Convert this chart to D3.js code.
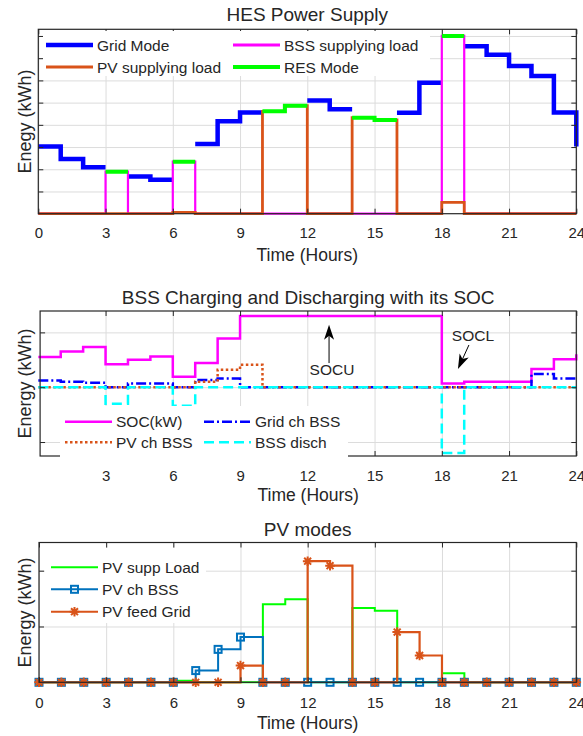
<!DOCTYPE html>
<html><head><meta charset="utf-8">
<script src="https://cdn.jsdelivr.net/npm/d3@7"></script>
<style>
body{margin:0;background:#fff}
svg{display:block}
text{font-family:"Liberation Sans",Arial,Helvetica,sans-serif;fill:#262626}
</style>
</head><body>
<script>
// ---------- DATA ----------
const hours = d3.range(0, 25);            // 0..24 h (stairs points)
const xTickVals = [0, 3, 6, 9, 12, 15, 18, 21, 24];
const xTickValsMid = [3, 6, 9, 12, 15, 18, 21, 24];

// Panel 1: HES Power Supply
const gridMode   = [3.03,2.46,2.09,null,1.68,1.53,null,3.14,4.16,4.56,null,null,5.09,4.70,null,null,4.54,5.89,null,7.54,7.15,6.65,6.20,4.56,3.03];
const bssSupply  = [0,0,0,1.89,0,0,2.34,0,0,0,0,0,0,0,0,0,0,0,8.0,0,0,0,0,0,0];
const pvSupply   = [0,0,0,0,0,0,0.06,0,0,0,4.61,4.86,0,0,4.32,4.22,0,0,0.51,0,0,0,0,0,0];
const resMode    = [null,null,null,1.89,null,null,2.34,null,null,null,4.61,4.86,null,null,4.32,4.22,null,null,8.0,null,null,null,null,null,null];
const yTicks1 = [1,2,3,4,5,6,7,8];

// Panel 2: BSS Charging and Discharging with its SOC
const soc      = [0.55,0.65,0.735,0.42,0.50,0.56,0.19,0.44,0.89,1.30,1.30,1.30,1.30,1.30,1.30,1.30,1.30,1.30,0.066,0.10,0.10,0.10,0.33,0.51,0.60];
const gridChBss= [0.12,0.10,0.08,0,0.066,0.066,0,0.13,0.16,0,0,0,0,0,0,0,0,0,0,0,0,0,0.24,0.16,0.15];
const pvChBss  = [0,0,0,0,0,0,0,0.10,0.32,0.41,0,0,0,0,0,0,0,0,0,0,0,0,0,0,0];
const bssDisch = [0,0,0,-0.30,0,0,-0.34,0,0,0,0,0,0,0,0,0,0,0,-1.20,0,0,0,0,0,0];
const yTicks2 = [-1,0,1];

// Panel 3: PV modes
const pvSuppLoad = [0,0,0,0,0,0,0.03,0,0,0,1.40,1.49,0,0,1.33,1.28,0,0,0.16,0,0,0,0,0,0];
const pvChBss3   = [0,0,0,0,0,0,0,0.21,0.59,0.81,0,0,0,0,0,0,0,0,0,0,0,0,0,0,0];
const pvFeedGrid = [0,0,0,0,0,0,0,0,0,0.30,0,0,2.17,2.09,0,0,0.90,0.48,0,0,0,0,0,0,0];
const yTicks3 = [1,2];

// ---------- DRAW ----------
const W = 583, H = 736;
const svg = d3.select("body").append("svg").attr("width", W).attr("height", H);
const AX = "#262626", GRID = "#dcdcdc";

function stairsPts(vals){
  const pts = [];
  for (let i = 0; i < vals.length - 1; i++){
    const v = vals[i];
    if (v == null){ pts.push(null); continue; }
    pts.push([hours[i], v], [hours[i+1], v]);
    if (vals[i+1] == null) pts.push(null);
  }
  const n = vals.length;
  if (vals[n-1] != null && vals[n-2] != null) pts.push([hours[n-1], vals[n-1]]);
  return pts;
}

function panel(o){
  const x = d3.scaleLinear().domain(o.xd).range([o.l, o.r]);
  const y = d3.scaleLinear().domain(o.yd).range([o.b, o.t]);
  const g = svg.append("g");
  g.append("g").attr("transform",`translate(0,${o.b})`)
    .call(d3.axisBottom(x).tickValues(o.xt).tickSize(-(o.b-o.t)).tickFormat(""))
    .call(s=>{s.select(".domain").remove(); s.selectAll("line").attr("stroke",GRID).attr("stroke-width",1);});
  g.append("g").attr("transform",`translate(${o.l},0)`)
    .call(d3.axisLeft(y).tickValues(o.yt).tickSize(-(o.r-o.l)).tickFormat(""))
    .call(s=>{s.select(".domain").remove(); s.selectAll("line").attr("stroke",GRID).attr("stroke-width",1);});
  const lineG = g.append("g");
  const line = d3.line().defined(d=>d!=null).x(d=>x(d[0])).y(d=>y(d[1]));
  const axG = g.append("g");
  axG.append("g").attr("transform",`translate(0,${o.b})`)
    .call(d3.axisBottom(x).tickValues(o.xt).tickSizeInner(-5).tickSizeOuter(0).tickPadding(o.pad).tickFormat(d3.format("d")))
    .call(s=>{s.select(".domain").remove(); s.selectAll("line").attr("stroke",AX);
      s.selectAll("text").attr("font-size",15).style("font-family",'"Liberation Sans",Arial,sans-serif').attr("fill",AX);});
  axG.append("g").attr("transform",`translate(0,${o.t})`)
    .call(d3.axisTop(x).tickValues(o.xt).tickSizeInner(-5).tickSizeOuter(0).tickFormat(""))
    .call(s=>{s.select(".domain").remove(); s.selectAll("line").attr("stroke",AX);});
  axG.append("g").attr("transform",`translate(${o.l},0)`)
    .call(d3.axisLeft(y).tickValues(o.yt).tickSizeInner(-5).tickSizeOuter(0).tickFormat(""))
    .call(s=>{s.select(".domain").remove(); s.selectAll("line").attr("stroke",AX);});
  axG.append("g").attr("transform",`translate(${o.r},0)`)
    .call(d3.axisRight(y).tickValues(o.yt).tickSizeInner(-5).tickSizeOuter(0).tickFormat(""))
    .call(s=>{s.select(".domain").remove(); s.selectAll("line").attr("stroke",AX);});
  axG.append("rect").attr("x",o.l).attr("y",o.t).attr("width",o.r-o.l).attr("height",o.b-o.t)
    .attr("fill","none").attr("stroke",AX).attr("stroke-width",1.2);
  g.append("text").attr("x",(o.l+o.r)/2).attr("y",o.titleY).attr("text-anchor","middle")
    .attr("dominant-baseline","central").attr("font-size",19).attr("fill","#000").text(o.title);
  g.append("text").attr("x",(o.l+o.r)/2).attr("y",o.xlabY).attr("text-anchor","middle")
    .attr("dominant-baseline","central").attr("font-size",17.5).text("Time (Hours)");
  g.append("text").attr("transform",`translate(25,${(o.t+o.b)/2}) rotate(-90)`).attr("text-anchor","middle")
    .attr("dominant-baseline","central").attr("font-size",18).text(o.ylab);
  return {x, y, lineG, line, g};
}

function drawStairs(p, vals, color, width, dash){
  p.lineG.append("path").datum(stairsPts(vals)).attr("d", p.line)
    .attr("fill","none").attr("stroke",color).attr("stroke-width",width)
    .attr("stroke-dasharray",dash||null).attr("stroke-linejoin","miter").attr("stroke-linecap","butt");
}
function squareMarker(sel, cx, cy, color){
  sel.append("rect").attr("x",cx-3.5).attr("y",cy-3.5).attr("width",7).attr("height",7)
    .attr("fill","none").attr("stroke",color).attr("stroke-width",2);
}
function starMarker(sel, cx, cy, color){
  const r = 4.8, d = r*0.72;
  sel.append("path").attr("d",`M${cx-r},${cy}L${cx+r},${cy}M${cx},${cy-r}L${cx},${cy+r}M${cx-d},${cy-d}L${cx+d},${cy+d}M${cx-d},${cy+d}L${cx+d},${cy-d}`)
    .attr("stroke",color).attr("stroke-width",2).attr("fill","none");
}
function legend(items, box){
  const lg = svg.append("g");
  lg.append("rect").attr("x",box[0]).attr("y",box[1]).attr("width",box[2]-box[0]).attr("height",box[3]-box[1]).attr("fill","#fff");
  items.forEach(it=>{
    lg.append("line").attr("x1",it.x).attr("x2",it.x+47).attr("y1",it.y).attr("y2",it.y)
      .attr("stroke",it.color).attr("stroke-width",it.w).attr("stroke-dasharray",it.dash||null);
    if (it.marker==="s") squareMarker(lg, it.x+23.5, it.y, it.color);
    if (it.marker==="*") starMarker(lg, it.x+23.5, it.y, it.color);
    lg.append("text").attr("x",it.x+51).attr("y",it.y).attr("dominant-baseline","central")
      .attr("font-size",15.5).attr("fill","#000").text(it.label);
  });
}

// ---- Panel 1
const p1 = panel({l:38.3,r:576.3,t:29.3,b:213.7,xd:[0,24],yd:[0,8.3],xt:xTickVals,yt:yTicks1,pad:14,
  title:"HES Power Supply",titleY:14,xlabY:255,ylab:"Enegy (kWh)"});
drawStairs(p1, gridMode, "#0000ff", 4.5);
drawStairs(p1, bssSupply, "#ff00ff", 2.2);
drawStairs(p1, pvSupply, "#d95319", 2.8);
drawStairs(p1, resMode, "#00ff00", 4);
legend([
  {x:46,y:45,color:"#0000ff",w:4.5,label:"Grid Mode"},
  {x:46,y:67,color:"#d95319",w:2.8,label:"PV supplying load"},
  {x:233,y:45,color:"#ff00ff",w:2.8,label:"BSS supplying load"},
  {x:233,y:67,color:"#00ff00",w:4,label:"RES Mode"}
],[43,31,430,76]);

// ---- Panel 2
const p2 = panel({l:40.1,r:576.3,t:311,b:456,xd:[0.08,24],yd:[-1.255,1.39],xt:xTickValsMid,yt:yTicks2,pad:14,
  title:"BSS Charging and Discharging with its SOC",titleY:297,xlabY:495,ylab:"Energy (kWh)"});
drawStairs(p2, soc, "#ff00ff", 2.5);
drawStairs(p2, gridChBss, "#0000ff", 2.5, "10,3,2,3");
drawStairs(p2, pvChBss, "#d95319", 2.5, "2.5,2.5");
drawStairs(p2, bssDisch, "#00ffff", 2.5, "10,5");
legend([
  {x:65,y:421.7,color:"#ff00ff",w:2.5,label:"SOC(kW)"},
  {x:65,y:442.3,color:"#d95319",w:2.5,label:"PV ch BSS",dash:"2.5,2.5"},
  {x:204,y:421.7,color:"#0000ff",w:2.5,label:"Grid ch BSS",dash:"10,3,2,3"},
  {x:204,y:442.3,color:"#00ffff",w:2.5,label:"BSS disch",dash:"10,5"}
],[60,406,348,457]);
function arrow(p, x0, y0, x1, y1){
  const X0=p.x(x0), Y0=p.y(y0), X1=p.x(x1), Y1=p.y(y1);
  const ang = Math.atan2(Y1-Y0, X1-X0), L=15, Wd=5, N=11;
  const ux=Math.cos(ang), uy=Math.sin(ang), px=-uy, py=ux;
  svg.append("line").attr("x1",X0).attr("y1",Y0).attr("x2",X1-ux*N).attr("y2",Y1-uy*N).attr("stroke","#000").attr("stroke-width",1);
  svg.append("path").attr("d",`M${X1},${Y1}L${X1-ux*L+px*Wd},${Y1-uy*L+py*Wd}L${X1-ux*N},${Y1-uy*N}L${X1-ux*L-px*Wd},${Y1-uy*L-py*Wd}Z`).attr("fill","#000");
}
arrow(p2, 12.97, 0.44, 12.97, 1.14);
svg.append("text").attr("x",p2.x(13.1)).attr("y",p2.y(0.32)).attr("text-anchor","middle").attr("dominant-baseline","central").attr("font-size",15.5).attr("fill","#000").text("SOCU");
arrow(p2, 19.21, 0.77, 18.72, 0.33);
svg.append("text").attr("x",p2.x(19.39)).attr("y",p2.y(0.95)).attr("text-anchor","middle").attr("dominant-baseline","central").attr("font-size",15.5).attr("fill","#000").text("SOCL");

// ---- Panel 3
const p3 = panel({l:39,r:576.3,t:542.5,b:682.3,xd:[0,24],yd:[0,2.505],xt:xTickVals,yt:yTicks3,pad:15,
  title:"PV modes",titleY:529,xlabY:723,ylab:"Energy (kWh)"});
drawStairs(p3, pvSuppLoad, "#00ff00", 2);
drawStairs(p3, pvChBss3, "#0072bd", 2);
const mk = p3.lineG.append("g");
hours.forEach((h,i)=>squareMarker(mk, p3.x(h), p3.y(pvChBss3[i]), "#0072bd"));
drawStairs(p3, pvFeedGrid, "#d95319", 2.2);
const mk2 = p3.lineG.append("g");
hours.forEach((h,i)=>starMarker(mk2, p3.x(h), p3.y(pvFeedGrid[i]), "#d95319"));
legend([
  {x:51,y:567.3,color:"#00ff00",w:2,label:"PV supp Load"},
  {x:51,y:589.3,color:"#0072bd",w:2,label:"PV ch BSS",marker:"s"},
  {x:51,y:611.7,color:"#d95319",w:2,label:"PV feed Grid",marker:"*"}
],[45,548,206,623]);
</script>
</body></html>
